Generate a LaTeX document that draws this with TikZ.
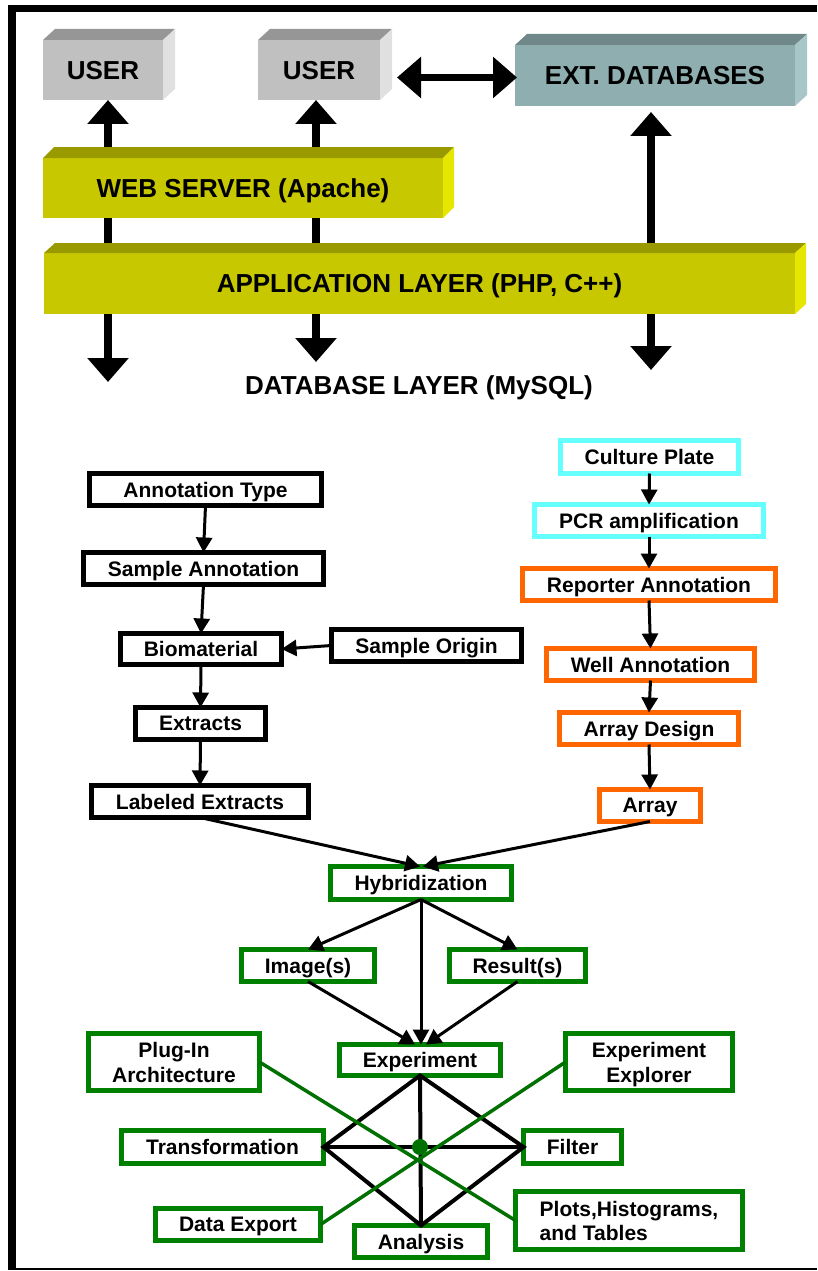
\documentclass[tikz,border=0pt]{standalone}
\usepackage{fontspec}
\setmainfont{Liberation Sans}
\usetikzlibrary{arrows.meta}
\pgfdeclarelayer{paper}
\pgfdeclarelayer{back}
\pgfsetlayers{paper,back,main}

\definecolor{userfront}{RGB}{192,192,192}
\definecolor{usertop}{RGB}{150,150,150}
\definecolor{userside}{RGB}{224,224,224}
\definecolor{extfront}{RGB}{143,174,175}
\definecolor{exttop}{RGB}{112,136,137}
\definecolor{extside}{RGB}{168,198,200}
\definecolor{layfront}{RGB}{200,200,0}
\definecolor{laytop}{RGB}{153,153,0}
\definecolor{layside}{RGB}{230,230,0}
\definecolor{boxgreen}{RGB}{0,128,0}
\definecolor{linkgreen}{RGB}{0,112,0}
\definecolor{boxcyan}{RGB}{102,255,255}
\definecolor{boxorange}{RGB}{255,102,0}

% top and right faces of a raised slab: node name, depth x, depth y, top colour, side colour
\newcommand\slabfaces[5]{%
  \fill[#4] (#1.north west) -- ++(#2,-#3) -- ([shift={(#2,-#3)}]#1.north east) -- (#1.north east) -- cycle;
  \fill[#5] (#1.north east) -- ++(#2,-#3) -- ([shift={(#2,-#3)}]#1.south east) -- (#1.south east) -- cycle;}

\begin{document}
\begin{tikzpicture}[x=1pt,y=-1pt,
  slab/.style={inner sep=0pt, outer sep=0pt, text=black, text depth=0pt,
    font=\fontsize{26}{30}\selectfont\bfseries},
  stepbox/.style={draw=#1, line width=5.5pt, fill=white, inner sep=0pt, outer sep=0pt,
    text depth=0pt, align=center, font=\fontsize{21}{25}\selectfont\bfseries},
  flowarrow/.style={line width=3pt, -{Triangle[length=15pt,width=16pt]}},
  bigarrow/.style={line width=8pt, {Triangle[length=24pt,width=40pt]}-{Triangle[length=24pt,width=40pt]}},
  link/.style={draw=linkgreen, line width=3.5pt},
  web/.style={line width=4pt, line join=miter}]
\useasboundingbox (0,0) rectangle (817,1271);
\begin{pgfonlayer}{paper}
  \fill[white] (0,0) rectangle (817,1271);
\end{pgfonlayer}

% frame
\fill (8,5) rectangle (817,12.5);
\fill (8,5) rectangle (16,1270);
\fill (8,1267.5) rectangle (817,1270);

% ---- system architecture ----
\node[slab, fill=userfront, minimum width=120pt, minimum height=60pt] (u1) at (103,70) {USER};
\slabfaces{u1}{12}{11}{usertop}{userside}
\node[slab, fill=userfront, minimum width=122pt, minimum height=60pt] (u2) at (319,70) {USER};
\slabfaces{u2}{12}{11}{usertop}{userside}
\node[slab, fill=extfront, minimum width=280pt, minimum height=61pt] (ext) at (655,75.5) {EXT. DATABASES};
\slabfaces{ext}{12}{11}{exttop}{extside}
\node[slab, fill=layfront, minimum width=400pt, minimum height=60pt] (web) at (243,188) {WEB SERVER (Apache)};
\slabfaces{web}{11}{11}{laytop}{layside}
\node[slab, fill=layfront, minimum width=751pt, minimum height=61pt] (app) at (419.5,283.5) {APPLICATION LAYER (PHP, C++)};
\slabfaces{app}{11}{10}{laytop}{layside}
\node[slab] (dbl) at (419,385) {DATABASE LAYER (MySQL)};

\coordinate (dbL) at (108,382);
\coordinate (dbM) at (316,362);
\coordinate (dbR) at (651,370);
\begin{pgfonlayer}{back}
  \draw[bigarrow] (dbL |- u1.south) -- (dbL);
  \draw[bigarrow] (dbM |- u2.south) -- (dbM);
  \draw[bigarrow, shorten <=6pt] (dbR |- ext.south) -- (dbR);
\end{pgfonlayer}
\draw[line width=7pt, {Triangle[length=24pt,width=40pt]}-{Triangle[length=24pt,width=40pt]}]
  ([xshift=17pt,yshift=-2pt]u2.east |- ext.west) -- ([xshift=2pt,yshift=-2pt]ext.west);

% ---- sample chain ----
\node[stepbox=black, minimum width=232pt, minimum height=32pt] (atype) at (205.5,489.5) {Annotation Type};
\node[stepbox=black, minimum width=240pt, minimum height=32pt] (sann) at (203.5,568.5) {Sample Annotation};
\node[stepbox=black, minimum width=161pt, minimum height=31pt] (bio) at (201,649) {Biomaterial};
\node[stepbox=black, minimum width=190pt, minimum height=32pt] (sorig) at (426.5,645.5) {Sample Origin};
\node[stepbox=black, minimum width=130pt, minimum height=32pt] (extr) at (200.5,723.5) {Extracts};
\node[stepbox=black, minimum width=217pt, minimum height=32pt] (lab) at (200,801.5) {Labeled Extracts};

\draw[flowarrow] (atype.south) -- (sann.north);
\draw[flowarrow] (sann.south) -- (bio.north);
\draw[flowarrow] (sorig.west) -- (bio.east);
\draw[flowarrow] (bio.south) -- (extr.north);
\draw[flowarrow] (extr.south) -- (lab.north);

% ---- array chain ----
\node[stepbox=boxcyan, minimum width=178pt, minimum height=33pt] (cp) at (649.5,457) {Culture Plate};
\node[stepbox=boxcyan, minimum width=229pt, minimum height=32pt] (pcr) at (649,520.5) {PCR amplification};
\node[stepbox=boxorange, minimum width=253pt, minimum height=32pt] (rep) at (649,584.5) {Reporter Annotation};
\node[stepbox=boxorange, minimum width=208pt, minimum height=32pt] (well) at (650.5,664.5) {Well Annotation};
\node[stepbox=boxorange, minimum width=179pt, minimum height=32pt] (ad) at (649,728.5) {Array Design};
\node[stepbox=boxorange, minimum width=101pt, minimum height=32pt] (arr) at (650,805.5) {Array};

\draw[flowarrow] (cp.south) -- (pcr.north);
\draw[flowarrow] (pcr.south) -- (rep.north);
\draw[flowarrow] (rep.south) -- (well.north);
\draw[flowarrow] (well.south) -- (ad.north);
\draw[flowarrow] (ad.south) -- (arr.north);

% ---- experiment ----
\node[stepbox=boxgreen, minimum width=181pt, minimum height=33pt] (hyb) at (421,883) {Hybridization};
\node[stepbox=boxgreen, minimum width=133pt, minimum height=32pt] (img) at (308,965.5) {Image(s)};
\node[stepbox=boxgreen, minimum width=136pt, minimum height=32pt] (res) at (517.5,965.5) {Result(s)};
\node[stepbox=boxgreen, minimum width=161pt, minimum height=31pt] (expt) at (420,1060) {Experiment};

\draw[flowarrow] (lab.south) -- ([xshift=-1pt]hyb.north);
\draw[flowarrow] (arr.south) -- ([xshift=2pt]hyb.north);
\draw[flowarrow] (hyb.south) -- (img.north);
\draw[flowarrow] (hyb.south) -- (res.north);
\draw[flowarrow] (hyb.south) -- ([xshift=1pt]expt.north);
\draw[flowarrow] (img.south) -- ([xshift=-5pt]expt.north);
\draw[flowarrow] (res.south) -- ([xshift=6pt]expt.north);

% ---- tools around the experiment ----
\node[stepbox=boxgreen, minimum width=171pt, minimum height=57pt] (plug) at (174,1062) {Plug-In\\Architecture};
\node[stepbox=boxgreen, minimum width=167pt, minimum height=57pt] (expl) at (649,1062) {Experiment\\Explorer};
\node[stepbox=boxgreen, minimum width=202pt, minimum height=33pt] (trans) at (222.5,1147) {Transformation};
\node[stepbox=boxgreen, minimum width=98pt, minimum height=33pt] (filt) at (572.5,1147) {Filter};
\node[stepbox=boxgreen, minimum width=165pt, minimum height=32pt] (dexp) at (238,1224.5) {Data Export};
\node[stepbox=boxgreen, minimum width=133pt, minimum height=32pt] (anal) at (421,1241.5) {Analysis};
\node[stepbox=boxgreen, minimum width=227pt, minimum height=58pt, align=left,
  font=\fontsize{21}{24}\selectfont\bfseries] (plots) at (629,1220.5) {Plots,Histograms,\\and Tables};

\draw[web] (expt.south) -- (trans.east) -- (anal.north) -- (filt.west) -- cycle;
\draw[web] (expt.south) -- (anal.north);
\draw[web] (trans.east) -- (filt.west);

\draw[link] (plug.east) -- (plots.west);
\draw[link] (expl.west) -- (dexp.east);
\node[circle, fill=linkgreen, inner sep=0pt, minimum size=16pt] (hub) at (expt.south |- trans.east) {};
\end{tikzpicture}
\end{document}
